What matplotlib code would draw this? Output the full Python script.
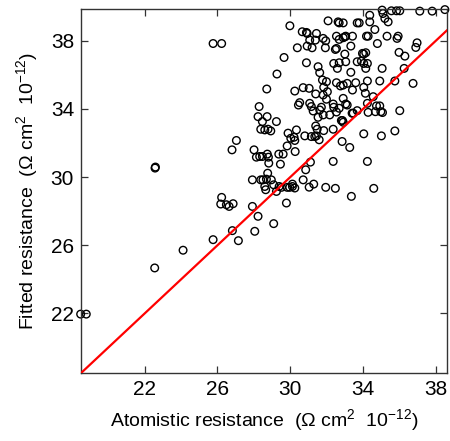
import numpy as np
import matplotlib
matplotlib.use('Agg')
import matplotlib.pyplot as plt

plt.rcParams['font.family'] = ['Liberation Sans', 'DejaVu Sans']
plt.rcParams['mathtext.default'] = 'regular'

# atomistic (x) vs fitted (y) resistance
atomistic = [
    29.98, 30.66, 30.89, 30.93, 31.44, 31.07, 31.38, 31.81, 31.95, 30.93,
    31.20, 30.39, 31.93, 29.66, 30.89, 31.53, 31.62, 29.27, 28.71, 30.25,
    30.71, 31.04, 31.40, 31.77, 31.99, 31.84, 32.04, 31.81, 31.99, 30.52,
    30.45, 31.07, 31.16, 31.26, 31.62, 31.71, 31.81, 31.53, 31.40, 31.48,
    31.44, 31.59, 31.84, 30.80, 31.16, 31.35, 32.08, 32.63, 32.69, 32.91,
    33.68, 33.79, 32.54, 32.91, 33.05, 33.42, 32.69, 33.00, 32.48, 32.54,
    33.00, 33.33, 33.97, 34.04, 34.15, 34.19, 34.28, 34.79, 34.65, 35.32,
    35.93, 35.87, 35.98, 36.30, 36.97, 36.90, 36.26, 35.05, 34.15, 34.04,
    33.68, 33.91, 34.24, 33.05, 32.69, 32.39, 32.59, 33.33, 32.54, 32.76,
    32.91, 33.13, 33.60, 33.42, 34.04, 34.24, 34.92, 35.75, 36.75, 34.13,
    34.56, 34.24, 34.74, 34.92, 34.98, 35.07, 34.68, 34.28, 33.68, 33.46,
    33.40, 36.02, 35.75, 35.01, 34.04, 32.81, 32.87, 32.91, 33.05, 33.13,
    32.36, 32.39, 32.54, 32.36, 32.85, 33.27, 34.24, 32.36, 31.95, 32.48,
    33.36, 34.59, 28.29, 28.23, 28.73, 29.24, 28.47, 28.38, 28.60, 28.78,
    28.93, 27.04, 26.80, 28.01, 28.14, 28.32, 28.47, 28.74, 28.80, 28.82,
    29.37, 29.61, 29.46, 29.88, 30.03, 30.21, 30.34, 30.25, 29.83, 30.27,
    31.11, 30.85, 30.71, 31.29, 31.04, 30.12, 29.97, 29.83, 30.25, 29.39,
    29.24, 29.09, 28.96, 28.76, 28.69, 28.60, 28.65, 28.38, 27.92, 27.92,
    28.23, 29.09, 29.79, 28.05, 27.15, 26.82, 26.86, 26.64, 26.49, 26.18,
    26.23, 25.76, 24.11, 22.55, 22.59, 22.57, 25.76, 26.23, 18.48, 18.79,
    35.05, 35.10, 35.56, 35.84, 36.02, 37.12, 37.80, 38.50, 34.37, 35.20,
    35.38, 34.37, 32.69, 32.17, 32.91, 30.12, 29.52, 28.50,
]
fitted = [
    38.88, 38.53, 38.49, 38.43, 38.43, 38.04, 38.04, 38.14, 38.00, 37.69,
    37.59, 37.59, 37.59, 37.02, 36.71, 36.48, 36.13, 36.05, 35.17, 35.05,
    35.25, 35.21, 34.88, 35.70, 35.60, 35.27, 35.01, 34.82, 34.57, 34.37,
    34.23, 34.33, 34.14, 33.88, 33.94, 34.10, 33.65, 33.51, 33.00, 32.81,
    32.42, 32.19, 32.73, 32.42, 32.38, 32.38, 39.17, 39.11, 39.05, 39.05,
    39.05, 39.05, 38.27, 38.18, 38.27, 38.27, 38.08, 38.23, 37.49, 37.55,
    37.22, 37.69, 37.26, 37.22, 37.30, 38.27, 38.27, 37.84, 38.66, 38.27,
    38.27, 38.14, 37.32, 37.10, 37.88, 37.61, 36.38, 36.38, 36.38, 36.67,
    36.77, 36.81, 36.67, 36.77, 36.71, 36.67, 36.38, 36.15, 35.54, 35.35,
    35.40, 35.50, 35.54, 35.11, 35.27, 35.64, 35.64, 35.64, 35.50, 34.92,
    34.72, 34.33, 34.18, 34.18, 33.84, 33.79, 33.84, 33.80, 33.90, 33.75,
    33.75, 33.90, 32.71, 32.42, 32.54, 33.32, 33.32, 33.22, 34.29, 34.23,
    34.29, 34.10, 33.82, 32.81, 32.09, 31.74, 30.92, 30.92, 29.40, 29.34,
    28.87, 29.34, 34.14, 33.55, 33.55, 33.26, 33.26, 32.81, 32.77, 32.81,
    32.71, 32.15, 31.60, 31.60, 31.17, 31.21, 31.21, 31.35, 31.17, 30.82,
    31.35, 31.35, 30.76, 32.58, 32.28, 32.34, 32.77, 32.15, 31.83, 31.50,
    30.88, 30.43, 29.84, 29.59, 29.41, 29.59, 29.40, 29.40, 29.36, 29.45,
    29.16, 29.55, 29.84, 30.23, 29.88, 29.45, 29.26, 29.84, 29.84, 28.28,
    27.70, 27.27, 28.48, 26.82, 26.27, 26.86, 28.44, 28.28, 28.38, 28.42,
    28.81, 26.33, 25.71, 24.67, 30.59, 30.53, 37.84, 37.84, 21.96, 21.96,
    39.80, 39.60, 39.76, 39.76, 39.76, 39.74, 39.74, 39.83, 39.50, 39.31,
    39.11, 39.11, 34.04, 33.65, 34.62, 29.45, 29.40, 29.84,
]

ticks = [22, 26, 30, 34, 38]
x_range = [18.5, 38.6]
y_range = [18.5, 39.85]

fig = plt.figure(figsize=(4.5, 4.41), dpi=100)
ax = fig.add_axes([0.18, 0.154, 0.8127, 0.825])

ax.scatter(atomistic, fitted, s=30, facecolors='none', edgecolors='black',
           linewidths=1.0, zorder=2, clip_on=False)
ax.plot(x_range, x_range, color='#ff0000', linewidth=1.6, zorder=3)

ax.set_xlim(x_range)
ax.set_ylim(y_range)
ax.set_xticks(ticks)
ax.set_yticks(ticks)
ax.tick_params(direction='in', length=5, width=0.9, color='#333333',
               labelsize=15, top=True, right=True, pad=5)
for s in ax.spines.values():
    s.set_color('#333333')
    s.set_linewidth(1.0)

ax.set_xlabel(r'Atomistic resistance  ($\Omega$ cm$^2$  10$^{-12}$)', fontsize=14,
              labelpad=6)
ax.set_ylabel(r'Fitted resistance  ($\Omega$ cm$^2$  10$^{-12}$)', fontsize=14,
              labelpad=8)

fig.savefig('out.png', dpi=100)
